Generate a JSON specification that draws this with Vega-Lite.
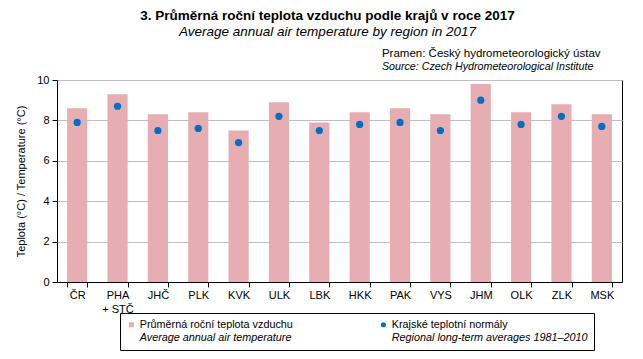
{
  "$schema": "https://vega.github.io/schema/vega-lite/v6.json",
  "width": 565,
  "height": 202,
  "padding": {"left": 15, "top": 9, "right": 16, "bottom": 8},
  "background": "white",
  "config": {
    "font": "Liberation Sans",
    "view": {"stroke": "black", "strokeWidth": 1},
    "axis": {"labelFont": "Liberation Sans", "titleFont": "Liberation Sans", "labelColor": "black", "titleColor": "black", "domainColor": "black", "tickColor": "black", "labelFontSize": 11, "titleFontSize": 11, "titleFontWeight": "normal"}
  },
  "title": {
    "text": "3. Průměrná roční teplota vzduchu podle krajů v roce 2017",
    "subtitle": "Average annual air temperature by region in 2017",
    "font": "Liberation Sans",
    "fontSize": 13.5,
    "fontWeight": "bold",
    "color": "black",
    "subtitleFont": "Liberation Sans",
    "subtitleFontSize": 13.5,
    "subtitleFontStyle": "italic",
    "subtitleColor": "black",
    "subtitlePadding": 2,
    "anchor": "middle",
    "frame": "group",
    "dx": -12,
    "offset": 10
  },
  "data": {
    "values": [
      {"kraj": "ČR", "teplota": 8.6, "normal": 7.9},
      {"kraj": "PHA + STČ", "teplota": 9.3, "normal": 8.7},
      {"kraj": "JHČ", "teplota": 8.3, "normal": 7.5},
      {"kraj": "PLK", "teplota": 8.4, "normal": 7.6},
      {"kraj": "KVK", "teplota": 7.5, "normal": 6.9},
      {"kraj": "ULK", "teplota": 8.9, "normal": 8.2},
      {"kraj": "LBK", "teplota": 7.9, "normal": 7.5},
      {"kraj": "HKK", "teplota": 8.4, "normal": 7.8},
      {"kraj": "PAK", "teplota": 8.6, "normal": 7.9},
      {"kraj": "VYS", "teplota": 8.3, "normal": 7.5},
      {"kraj": "JHM", "teplota": 9.8, "normal": 9.0},
      {"kraj": "OLK", "teplota": 8.4, "normal": 7.8},
      {"kraj": "ZLK", "teplota": 8.8, "normal": 8.2},
      {"kraj": "MSK", "teplota": 8.3, "normal": 7.7}
    ]
  },
  "encoding": {
    "x": {
      "field": "kraj",
      "type": "nominal",
      "sort": null,
      "scale": {"paddingInner": 0.5, "paddingOuter": 0.25},
      "axis": {
        "title": null,
        "labelAngle": 0,
        "tickBand": "extent",
        "tickSize": 5,
        "labelPadding": 2,
        "labelLineHeight": 14,
        "labelExpr": "datum.label == 'PHA + STČ' ? ['PHA', '+ STČ'] : datum.label"
      }
    }
  },
  "layer": [
    {
      "mark": {"type": "bar", "color": "#e6aeb2"},
      "encoding": {
        "y": {
          "field": "teplota",
          "type": "quantitative",
          "scale": {"domain": [0, 10]},
          "axis": {
            "title": "Teplota (°C) / Temperature (°C)",
            "values": [0, 2, 4, 6, 8, 10],
            "gridColor": "#bfbfbf",
            "tickSize": 5,
            "labelPadding": 3,
            "titlePadding": 10
          }
        },
        "color": {
          "datum": "Průměrná roční teplota vzduchu",
          "scale": {
            "domain": ["Průměrná roční teplota vzduchu", "Krajské teplotní normály", "Average annual air temperature", "Regional long-term averages 1981–2010"],
            "range": ["#e6aeb2", "#0070c0", "#ffffff", "#ffffff"]
          },
          "legend": {
            "title": null,
            "orient": "none",
            "direction": "horizontal",
            "legendX": 63,
            "legendY": 233,
            "columns": 2,
            "columnPadding": 85,
            "rowPadding": 2,
            "padding": 6,
            "strokeColor": "black",
            "labelFont": "Liberation Sans",
            "labelFontSize": 10.8,
            "labelColor": "black",
            "labelLimit": 300,
            "labelOffset": 3,
            "symbolSize": 25,
            "symbolType": "square",
            "symbolStrokeWidth": 0,
            "values": ["Průměrná roční teplota vzduchu", "Krajské teplotní normály", "Average annual air temperature", "Regional long-term averages 1981–2010"],
            "encode": {
              "symbols": {"update": {
                "shape": {"signal": "datum.index == 1 ? 'circle' : 'square'"},
                "opacity": {"signal": "datum.index >= 2 ? 0 : 1"}
              }},
              "labels": {"update": {
                "fontStyle": {"signal": "datum.index >= 2 ? 'italic' : 'normal'"}
              }}
            }
          }
        }
      }
    },
    {
      "mark": {"type": "point", "filled": true, "size": 52, "opacity": 1},
      "encoding": {
        "y": {"field": "normal", "type": "quantitative"},
        "color": {"datum": "Krajské teplotní normály"}
      }
    },
    {
      "data": {"values": [{}]},
      "mark": {"type": "text", "text": "Pramen: Český hydrometeorologický ústav", "align": "left", "baseline": "alphabetic", "fontSize": 11.5, "fontWeight": "normal", "font": "Liberation Sans", "color": "black", "dx": -8, "dy": -23},
      "encoding": {
        "x": {"datum": "PAK", "bandPosition": 0},
        "y": {"datum": 10}
      }
    },
    {
      "data": {"values": [{}]},
      "mark": {"type": "text", "text": "Source: Czech Hydrometeorological Institute", "align": "left", "baseline": "alphabetic", "fontSize": 10.7, "fontWeight": "normal", "fontStyle": "italic", "font": "Liberation Sans", "color": "black", "dx": -8, "dy": -10},
      "encoding": {
        "x": {"datum": "PAK", "bandPosition": 0},
        "y": {"datum": 10}
      }
    }
  ]
}
